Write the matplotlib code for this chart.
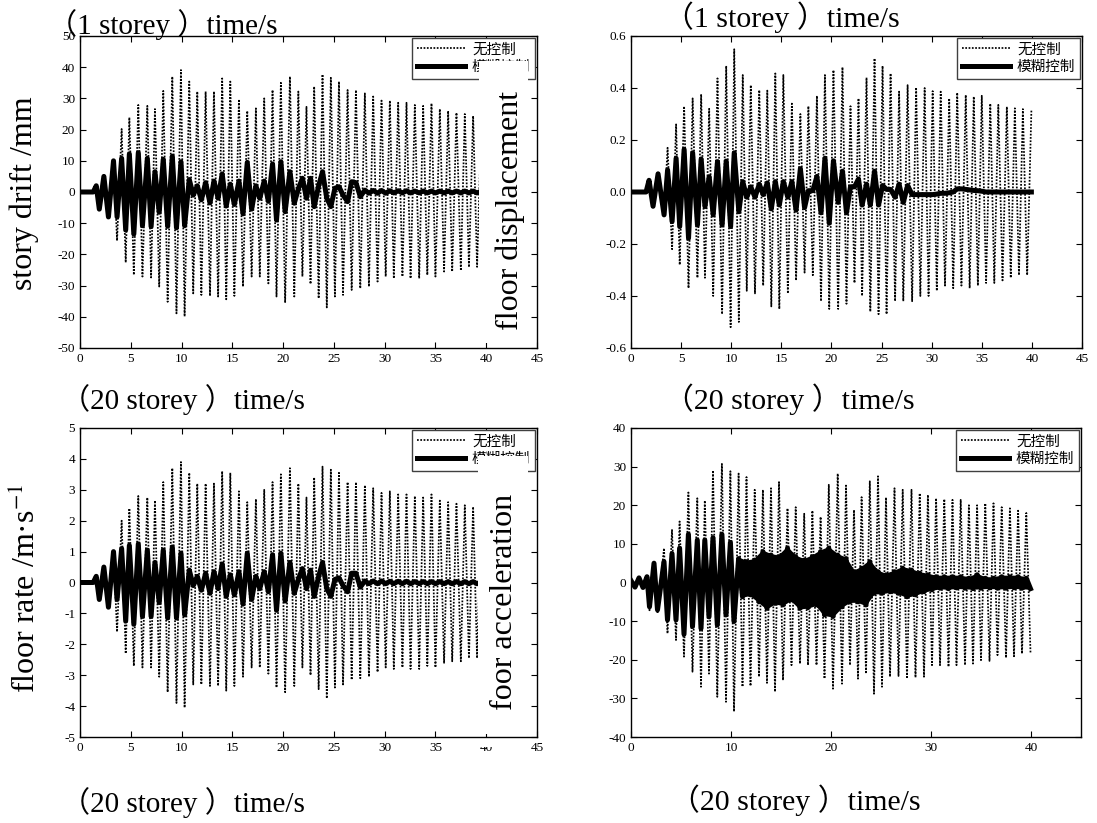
import numpy as np
import matplotlib
matplotlib.use('Agg')
import matplotlib.pyplot as plt
from matplotlib.patches import Rectangle

plt.rcParams['font.family'] = ['Liberation Serif', 'Noto Sans CJK SC', 'DejaVu Sans']
plt.rcParams['mathtext.fontset'] = 'stix'
plt.rcParams['axes.unicode_minus'] = False
plt.rcParams['xtick.direction'] = 'in'
plt.rcParams['ytick.direction'] = 'in'
plt.rcParams['xtick.top'] = True
plt.rcParams['ytick.right'] = True
plt.rcParams['xtick.major.size'] = 4
plt.rcParams['ytick.major.size'] = 4
plt.rcParams['xtick.labelsize'] = 9.5
plt.rcParams['ytick.labelsize'] = 9.5

# times of the response peaks (a) and troughs (b), s
t_a = [3.3, 4.1, 4.86, 5.74, 6.63, 7.38, 8.2, 9.09, 9.94, 10.76, 11.55, 12.37, 13.19, 14.0, 14.8,
       15.65, 16.47, 17.32, 18.14, 18.96, 19.78, 20.67, 21.5, 22.3, 23.06, 23.88, 24.7, 25.5, 26.35,
       27.17, 28.05, 28.87, 29.69, 30.51, 31.33, 32.15, 32.97, 33.79, 34.61, 35.43, 36.25, 37.07,
       37.89, 38.71, 39.53]
t_b = [3.65, 4.5, 5.3, 6.15, 7.0, 7.8, 8.63, 9.5, 10.3, 11.15, 11.95, 12.8, 13.6, 14.4, 15.2,
       16.05, 16.9, 17.7, 18.55, 19.35, 20.2, 21.1, 21.9, 22.7, 23.5, 24.3, 25.1, 25.9, 26.75,
       27.6, 28.45, 29.3, 30.1, 30.9, 31.75, 32.55, 33.4, 34.2, 35.0, 35.85, 36.65, 37.5, 38.3,
       39.1, 39.95]

# story drift (1 storey), mm
lead_t1 = [0, 1.3, 1.6, 1.9, 2.35, 2.8]
drift_lead = [0, 0, 2, -5.5, 5, -8]
drift_nc_a = [10.3, 20.2, 23.9, 27.9, 27.6, 26.6, 32.4, 37.0, 39.1, 35.4, 32.2, 32.2, 32.2, 36.4,
              35.4, 29.7, 26.0, 26.8, 30.0, 32.7, 35.0, 37.0, 32.2, 27.3, 33.8, 37.7, 36.6, 35.4,
              32.7, 32.7, 31.6, 30.6, 29.3, 29.3, 28.6, 28.6, 27.9, 27.6, 28.4, 26.6, 26.0, 25.4,
              25.0, 24.4, 24.0]
drift_nc_b = [-15.6, -22.6, -26.6, -27.1, -27.4, -30.3, -35.2, -38.9, -39.9, -32.5, -33.0, -33.3,
              -33.5, -34.4, -33.3, -30.3, -27.1, -27.1, -29.3, -33.5, -35.5, -33.5, -27.1, -29.5,
              -34.1, -37.0, -33.5, -33.0, -31.4, -30.9, -30.3, -28.7, -27.1, -27.7, -27.1, -27.7,
              -27.7, -26.6, -27.1, -25.5, -25.5, -25.2, -24.1, -24.0, -23.5]
drift_fc_a = [10.0, 10.8, 12.2, 12.6, 10.8, 6.5, 10.5, 11.5, 9.7, 4.0, 2.0, 3.0, 3.5, 5.8, 2.5,
              3.5, 9.5, 2.0, 3.5, 9.0, 9.7, 6.5, 1.0, -2.0, -4.7, 6.5, -4.7, 1.7, -3.1, 3.0,
              0.6, 0.5, 0.5, 0.4, 0.4, 0.4, 0.3, 0.3, 0.3, 0.3, 0.3, 0.3, 0.3, 0.3, 0.3]
drift_fc_b = [-8.0, -12.2, -13.5, -10.8, -11.1, -6.5, -11.0, -11.5, -10.8, -1.0, -2.5, -3.5, -2.0,
              -4.5, -4.0, -7.0, -5.5, -2.0, -3.0, -9.0, -6.3, -3.6, 4.4, 4.4, 2.0, -2.0, 1.2, -1.0,
              3.3, -1.5, -0.4, -0.4, -0.4, -0.3, -0.3, -0.3, -0.3, -0.3, -0.3, -0.3, -0.3, -0.3,
              -0.3, -0.3, -0.3]

# floor displacement (1 storey)
lead_t2 = [0, 1.5, 1.8, 2.2, 2.7]
disp_lead = [0, 0, 0.045, -0.055, 0.07]
disp_nc_a = [-0.09, -0.22, -0.28, -0.37, -0.33, -0.33, -0.40, -0.47, -0.52, -0.50, -0.38, -0.39,
             -0.36, -0.44, -0.45, -0.39, -0.34, -0.31, -0.32, -0.42, -0.45, -0.45, -0.43, -0.35,
             -0.40, -0.46, -0.47, -0.47, -0.42, -0.42, -0.42, -0.40, -0.40, -0.38, -0.36, -0.37,
             -0.36, -0.37, -0.36, -0.35, -0.35, -0.34, -0.33, -0.32, -0.32]
disp_nc_b = [0.17, 0.26, 0.33, 0.36, 0.376, 0.32, 0.437, 0.485, 0.549, 0.45, 0.411, 0.392, 0.39,
             0.456, 0.45, 0.34, 0.30, 0.33, 0.37, 0.45, 0.469, 0.48, 0.33, 0.36, 0.44, 0.514,
             0.485, 0.456, 0.386, 0.411, 0.402, 0.40, 0.388, 0.386, 0.36, 0.382, 0.373, 0.367,
             0.37, 0.34, 0.335, 0.328, 0.322, 0.319, 0.315]
disp_fc_a = [-0.088, -0.114, -0.133, -0.178, -0.127, -0.056, -0.088, -0.127, -0.133, -0.076,
             -0.02, -0.02, -0.01, -0.065, -0.05, -0.02, -0.07, -0.06, 0.005, -0.08, -0.12, -0.04,
             -0.08, 0.02, -0.05, -0.05, -0.05, 0.01, -0.02, -0.04, -0.01, -0.01, -0.01, -0.008,
             -0.005, 0.0, 0.012, 0.008, 0.005, 0.0, 0.0, 0.0, 0.0, 0.0, 0.0]
disp_fc_b = [0.085, 0.13, 0.164, 0.151, 0.127, 0.059, 0.117, 0.119, 0.151, 0.04, 0.02, 0.03,
             0.035, 0.04, 0.04, 0.04, 0.09, 0.005, 0.06, 0.13, 0.12, 0.08, 0.02, 0.05, 0.03, 0.08,
             0.025, 0.01, 0.03, 0.025, -0.01, -0.01, -0.01, -0.005, -0.003, 0.012, 0.01, 0.006,
             0.003, 0.0, 0.0, 0.0, 0.0, 0.0, 0.0]

# floor rate (20 storey), m/s
rate_lead = [0, 0, 0.2, -0.55, 0.5, -0.8]
rate_nc_a = [1.0, 2.0, 2.4, 2.8, 2.75, 2.65, 3.25, 3.7, 3.9, 3.55, 3.2, 3.2, 3.2, 3.6, 3.55,
             2.95, 2.6, 2.7, 3.0, 3.25, 3.5, 3.7, 3.2, 2.75, 3.4, 3.75, 3.65, 3.55, 3.25, 3.25,
             3.15, 3.05, 2.9, 2.95, 2.85, 2.85, 2.8, 2.75, 2.85, 2.65, 2.6, 2.55, 2.5, 2.45, 2.4]
rate_nc_b = [-1.6, -2.3, -2.7, -2.75, -2.75, -3.05, -3.55, -3.9, -4.05, -3.3, -3.3, -3.35, -3.35,
             -3.5, -3.35, -3.05, -2.75, -2.75, -2.95, -3.4, -3.55, -3.35, -2.75, -3.0, -3.45,
             -3.75, -3.4, -3.3, -3.15, -3.1, -3.05, -2.9, -2.75, -2.8, -2.75, -2.8, -2.8, -2.7,
             -2.75, -2.6, -2.55, -2.55, -2.45, -2.45, -2.4]
rate_fc_a = [1.0, 1.1, 1.2, 1.25, 1.05, 0.65, 1.05, 1.15, 0.95, 0.4, 0.2, 0.3, 0.35, 0.6, 0.25,
             0.35, 0.95, 0.2, 0.35, 0.9, 0.95, 0.65, 0.1, -0.2, -0.45, 0.65, -0.45, 0.15, -0.3,
             0.3, 0.05, 0.05, 0.05, 0.04, 0.04, 0.04, 0.03, 0.03, 0.03, 0.03, 0.03, 0.03, 0.03,
             0.03, 0.03]
rate_fc_b = [-0.55, -1.25, -1.35, -1.1, -1.1, -0.65, -1.15, -1.15, -1.05, -0.1, -0.25, -0.35,
             -0.2, -0.45, -0.4, -0.7, -0.55, -0.2, -0.3, -0.9, -0.6, -0.35, 0.45, 0.4, 0.2, -0.2,
             0.1, -0.1, 0.3, -0.15, -0.04, -0.04, -0.04, -0.04, -0.04, -0.04, -0.04, -0.04,
             -0.04, -0.04, -0.04, -0.04, -0.04, -0.04, -0.04]

# floor acceleration (20 storey)
lead_t4 = [0, 0.4, 0.8, 1.2, 1.6, 1.85, 2.3, 2.65]
acc_nc_lead = [0.5, -1.0, 1.0, -1.2, 1.5, -7.2, 5.0, -8.0]
acc_fc_lead = [0.5, -1.2, 1.2, -1.3, 1.5, -6.3, 5.0, -7.1]
acc_nc_a = [8.9, 13.6, 15.8, 23.3, 21.8, 21.2, 29.0, 30.7, 28.8, 28.2, 27.3, 24.0, 24.0, 24.4,
            26.0, 19.2, 19.5, 17.8, 18.6, 17.0, 25.3, 28.2, 25.1, 18.8, 22.1, 26.2, 27.5, 22.0,
            24.4, 24.0, 24.0, 23.1, 22.7, 21.8, 21.6, 21.4, 21.4, 20.0, 20.0, 20.5, 20.5, 19.5,
            19.2, 18.6, 18.0]
acc_nc_b = [-13.2, -14.9, -19.2, -23.1, -27.0, -23.6, -29.6, -30.9, -33.4, -27.0, -26.8, -24.4,
            -26.0, -28.3, -25.3, -21.4, -21.0, -21.4, -21.4, -24.9, -27.5, -26.2, -21.4, -24.9,
            -23.6, -28.8, -27.0, -24.4, -24.2, -24.9, -24.6, -24.4, -21.4, -21.4, -21.8, -21.4,
            -21.4, -21.0, -20.1, -20.3, -18.8, -19.5, -19.1, -18.4, -18.2]
acc_fc_a = [5.4, 7.5, 8.9, 12.5, 11.0, 11.0, 11.6, 12.5, 10.4, 6.2, 5.4, 5.8, 8.0, 7.1, 6.7, 8.9,
            6.7, 5.8, 6.7, 8.0, 8.9, 7.1, 6.2, 2.8, 3.7, 5.4, 2.8, 2.0, 2.8, 3.7, 3.2, 2.4, 2.0,
            1.5, 1.5, 1.5, 1.5, 1.1, 2.0, 1.1, 1.1, 1.5, 1.5, 1.5, 1.1]
acc_fc_b = [-9.7, -9.7, -13.4, -11.4, -11.9, -8.9, -11.0, -8.4, -10.1, -3.7, -3.2, -5.0, -6.7,
            -5.4, -5.8, -4.5, -6.7, -6.5, -5.8, -8.4, -8.8, -6.3, -5.0, -5.0, -5.8, -2.8, -2.8,
            -2.4, -2.8, -3.7, -3.2, -2.4, -1.9, -1.5, -1.6, -1.4, -1.5, -1.6, -1.5, -1.4, -1.5,
            -1.5, -1.4, -1.5, -1.6]

labels = ['无控制', '模糊控制']


def series(lead_t, lead_v, va, vb):
    t = np.concatenate([lead_t, np.column_stack([t_a, t_b]).ravel()])
    v = np.concatenate([lead_v, np.column_stack([va, vb]).ravel()])
    return t, v


W, H = 1097, 823
fig = plt.figure(figsize=(W / 100, H / 100), dpi=100)


def px_axes(x0, y0, x1, y1):
    return fig.add_axes([x0 / W, 1 - y1 / H, (x1 - x0) / W, (y1 - y0) / H])


panels = [
    (px_axes(80, 36, 537, 348), series(lead_t1, drift_lead, drift_nc_a, drift_nc_b),
     series(lead_t1, drift_lead, drift_fc_a, drift_fc_b), (-50, 50), np.arange(-50, 51, 10),
     np.arange(0, 46, 5), '%d'),
    (px_axes(631, 36, 1082, 348), series(lead_t2, disp_lead, disp_nc_a, disp_nc_b),
     series(lead_t2, disp_lead, disp_fc_a, disp_fc_b), (-0.6, 0.6), np.linspace(-0.6, 0.6, 7),
     np.arange(0, 46, 5), '%.1f'),
    (px_axes(80, 428, 537, 737), series(lead_t1, rate_lead, rate_nc_a, rate_nc_b),
     series(lead_t1, rate_lead, rate_fc_a, rate_fc_b), (-5, 5), np.arange(-5, 6, 1),
     np.arange(0, 46, 5), '%d'),
    (px_axes(631, 428, 1081, 737), series(lead_t4, acc_nc_lead, acc_nc_a, acc_nc_b),
     series(lead_t4, acc_fc_lead, acc_fc_a, acc_fc_b), (-40, 40), np.arange(-40, 41, 10),
     np.arange(0, 41, 10), '%d'),
]

for ax, (tn, vn), (tf, vf), ylim, yticks, xticks, fmt in panels:
    ax.plot(tn, vn, color='black', lw=1.25, ls=(0, (1, 0.9)), label=labels[0])
    ax.plot(tf, vf, color='black', lw=3.6, label=labels[1])
    ax.set_xlim(0, 45)
    ax.set_ylim(*ylim)
    ax.set_xticks(xticks)
    ax.set_yticks(yticks)
    ax.set_yticklabels([fmt % v for v in yticks])
    for s in ax.spines.values():
        s.set_linewidth(1.0)
    leg = ax.legend(loc='upper right', prop={'family': ['Noto Sans CJK SC'], 'size': 10.5},
                    fancybox=False, framealpha=1, edgecolor='#404040', borderaxespad=0.15,
                    borderpad=0.3, labelspacing=0.25, handlelength=3.3, handletextpad=0.5)
    leg.get_frame().set_linewidth(1.0)

# the controlled acceleration is a dense black band after about 10 s
ax_acc = panels[3][0]
ax_acc.fill(np.concatenate([t_a[9:], t_b[9:][::-1]]),
            np.concatenate([acc_fc_a[9:], acc_fc_b[9:][::-1]]),
            color='black', lw=1.5, zorder=3)


def ftext(x, y, s, **kw):
    fig.text(x / W, 1 - y / H, s, **kw)


left_kw = dict(fontsize=21, va='center', ha='left', zorder=6)
right_kw = dict(fontsize=21.5, va='center', ha='left', zorder=6)
ftext(48, 25, '（1 storey ）time/s', **left_kw)
ftext(664, 17, '（1 storey ）time/s', **right_kw)
ftext(61, 400, '（20 storey ）time/s', **left_kw)
ftext(664, 399, '（20 storey ）time/s', **right_kw)
ftext(61, 803, '（20 storey ）time/s', **left_kw)
ftext(670, 800, '（20 storey ）time/s', **right_kw)

# white strips of the right-hand panels that overlap the left-hand ones
for x0, y0, x1, y1 in [(479, 61, 528, 343), (478, 456, 528, 734), (478, 741, 528, 747)]:
    fig.add_artist(Rectangle((x0 / W, 1 - y1 / H), (x1 - x0) / W, (y1 - y0) / H,
                             transform=fig.transFigure, facecolor='white', edgecolor='none',
                             zorder=5))

ylab_kw = dict(fontsize=23, rotation=90, ha='center', va='center', zorder=6)
ftext(24, 193, 'story drift /mm', **ylab_kw)
ftext(510, 210, 'floor displacement', **ylab_kw)
ftext(26, 588, 'floor rate /m·s$^{-1}$', **ylab_kw)
ftext(505, 602, 'foor acceleration', **ylab_kw)

fig.savefig('out.png', dpi=100)
